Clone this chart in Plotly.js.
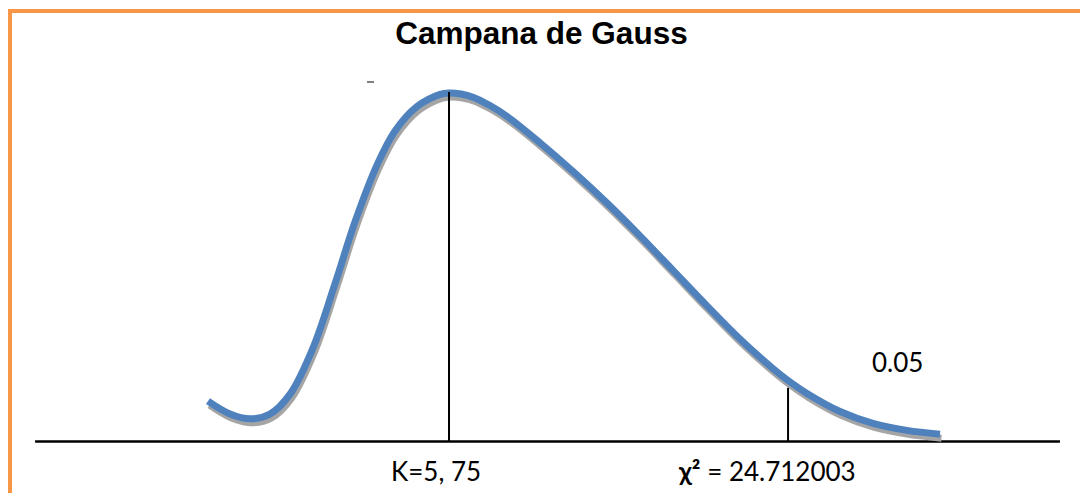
<!DOCTYPE html>
<html>
<head>
<meta charset="utf-8">
<script src="https://cdn.plot.ly/plotly-3.0.1.min.js"></script>
<style>html,body{margin:0;padding:0;background:#fff;}#chart{width:1080px;height:493px;}</style>
</head>
<body>
<div id="chart"></div>
<script>
// Curve (x in chi-square units, y relative density, peak = 1)
const curveX = [-7.73, -6.50, -5.38, -4.26, -3.14, -1.86, -0.63, 0.49, 1.72, 2.73, 3.96, 5.25, 5.75, 6.42, 7.09, 8.04, 8.99, 10.84, 12.68, 14.59, 16.43, 18.28, 20.18, 22.02, 23.87, 24.71, 25.77, 27.62, 29.46, 31.36, 33.21];
const curveY = [0.116, 0.079, 0.065, 0.079, 0.136, 0.268, 0.452, 0.630, 0.793, 0.891, 0.961, 0.996, 1.000, 0.997, 0.988, 0.964, 0.933, 0.857, 0.775, 0.684, 0.590, 0.491, 0.389, 0.294, 0.209, 0.175, 0.138, 0.086, 0.052, 0.032, 0.021];

// Reference lines
const kValue = 5.75;
const kHeight = 1.003;
const chiValue = 24.712003;
const chiHeight = 0.154;
const baseStart = -17.40;
const baseEnd = 39.92;

// Texts
const titleText = 'Campana de Gauss';
const kLabel = 'K=5, 75';
const chiLabel = '<b>χ²</b> = 24.712003';
const alphaLabel = '0.05';

const W = 1080, H = 493;
const xRange = [-19.362, 41.040];
const yRange = [-0.14778, 1.26686];
const xPerPx = (xRange[1] - xRange[0]) / W;
const yPerPx = (yRange[1] - yRange[0]) / H;

const shadowX = curveX.map(v => v + 1.5 * xPerPx);
const shadowY = curveY.map(v => v - 4 * yPerPx);

const traces = [
  {x: [baseStart, baseEnd], y: [0, 0], mode: 'lines', line: {color: '#000', width: 2.5}, hoverinfo: 'skip'},
  {x: shadowX, y: shadowY, mode: 'lines', line: {color: '#A5A5A5', width: 7, shape: 'spline', smoothing: 1}, hoverinfo: 'skip'},
  {x: curveX, y: curveY, mode: 'lines', line: {color: '#4F81BD', width: 7, shape: 'spline', smoothing: 1}, hoverinfo: 'skip'},
  {x: [kValue, kValue], y: [0, kHeight], mode: 'lines', line: {color: '#000', width: 2}, hoverinfo: 'skip'},
  {x: [chiValue, chiValue], y: [0, chiHeight], mode: 'lines', line: {color: '#000', width: 2}, hoverinfo: 'skip'}
];

const labelFont = {family: 'Lato, "Liberation Sans", Arial, sans-serif', size: 26, color: '#000'};

const layout = {
  width: W, height: H,
  margin: {l: 0, r: 0, t: 0, b: 0, pad: 0},
  paper_bgcolor: '#fff', plot_bgcolor: '#fff',
  showlegend: false,
  title: {text: '<b>' + titleText + '</b>', font: {family: '"Liberation Sans", Arial, sans-serif', size: 31.5, color: '#000'},
          x: 541.5 / W, xanchor: 'center', y: 1 - 33 / H, yanchor: 'middle'},
  xaxis: {range: xRange, visible: false, fixedrange: true},
  yaxis: {range: yRange, visible: false, fixedrange: true},
  shapes: [
    {type: 'line', xref: 'paper', yref: 'paper', x0: 10 / W, x1: 1, y0: 1 - 11 / H, y1: 1 - 11 / H, line: {color: '#F79646', width: 4}},
    {type: 'line', xref: 'paper', yref: 'paper', x0: 10 / W, x1: 10 / W, y0: 1 - 9 / H, y1: 0, line: {color: '#F79646', width: 4}},
    {type: 'line', xref: 'paper', yref: 'paper', x0: 367 / W, x1: 374 / W, y0: 1 - 82 / H, y1: 1 - 82 / H, line: {color: '#000', width: 1}}
  ],
  annotations: [
    {text: kLabel, xref: 'paper', yref: 'paper', x: 436 / W, y: 1 - 471 / H, xanchor: 'center', yanchor: 'middle', showarrow: false, font: labelFont},
    {text: chiLabel, xref: 'paper', yref: 'paper', x: 766.5 / W, y: 1 - 471 / H, xanchor: 'center', yanchor: 'middle', showarrow: false, font: labelFont},
    {text: alphaLabel, xref: 'paper', yref: 'paper', x: 897 / W, y: 1 - 362 / H, xanchor: 'center', yanchor: 'middle', showarrow: false, font: labelFont}
  ]
};

Plotly.newPlot('chart', traces, layout, {displayModeBar: false, staticPlot: true});
</script>
</body>
</html>
